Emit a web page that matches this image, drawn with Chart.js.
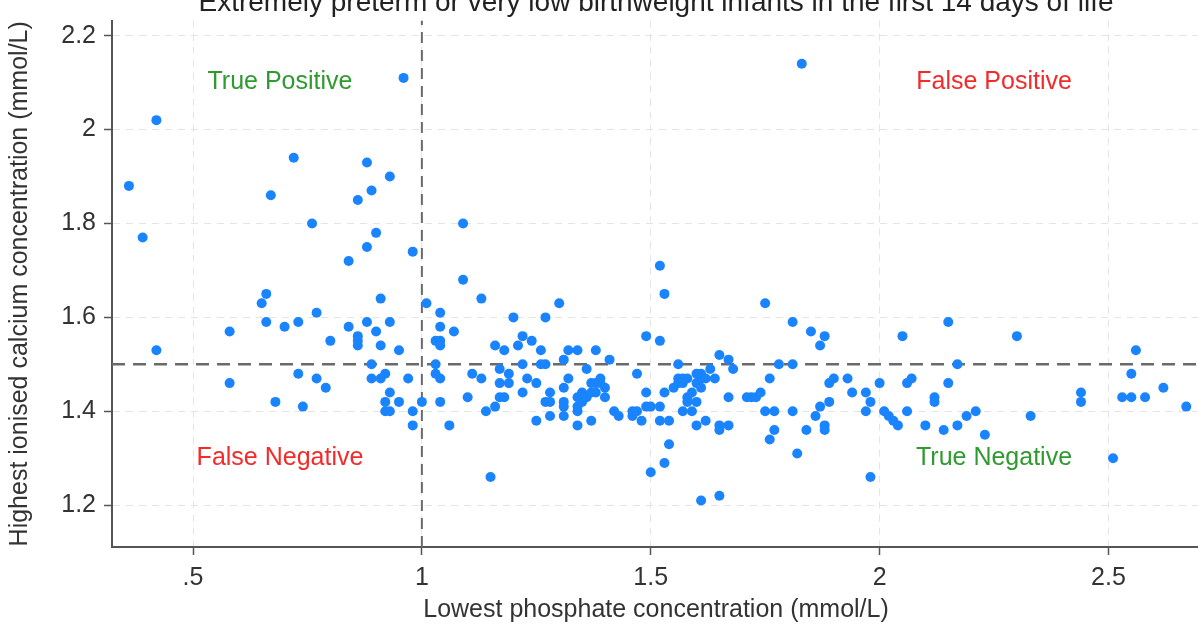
<!DOCTYPE html>
<html lang="en">
<head>
<meta charset="UTF-8">
<title>Ionised calcium vs phosphate</title>
<script src="https://cdn.jsdelivr.net/npm/chart.js"></script>
<style>
  html, body { margin:0; padding:0; background:#fff; overflow:hidden; }
  /* the reference is cropped at the top and right, so the canvas overhangs the window */
  #wrap { position:absolute; left:0; top:-14px; width:1205px; height:642px; }
</style>
</head>
<body>
<div id="wrap"><canvas id="chart"></canvas></div>
<script>
// lowest phosphate (x) and highest ionised calcium (y), mmol/L
const phosphate = [
  0.36,0.42,0.39,0.42,0.58,0.58,0.66,0.65,0.67,0.72,0.66,0.70,0.73,0.73,0.68,0.74,0.76,0.77,0.77,0.79,
  0.80,0.84,0.84,0.86,0.86,0.86,0.86,0.88,0.88,0.89,0.90,0.88,0.90,0.91,0.91,0.89,0.89,0.91,0.92,0.93,
  0.93,0.93,0.92,0.92,0.93,0.95,0.95,0.96,0.97,0.98,0.98,0.98,1.00,
  1.01,1.04,1.04,1.07,1.03,1.04,1.04,1.03,1.03,1.04,1.04,1.06,1.09,1.09,1.13,1.11,1.13,1.10,1.14,1.16,
  1.15,1.16,1.18,1.17,1.19,1.17,1.19,1.17,1.18,1.20,1.21,1.22,1.24,1.22,1.23,1.22,1.25,1.26,1.26,1.27,
  1.27,1.25,1.27,1.28,1.28,1.28,1.30,1.32,1.31,1.32,1.31,1.31,1.31,1.31,1.34,1.34,1.34,1.35,1.35,1.36,
  1.36,1.34,1.37,1.37,1.38,1.38,1.39,1.39,1.40,1.40,1.41,1.42,1.43,1.46,1.46,1.47,1.47,1.48,1.49,1.49,
  1.49,1.50,1.50,1.52,1.52,1.53,1.52,1.52,1.54,1.53,1.55,1.54,1.53,1.56,1.34,1.38,1.37,
  1.56,1.57,1.56,1.58,1.57,1.60,1.61,1.61,1.60,1.62,1.61,1.58,1.58,1.59,1.60,1.57,1.59,1.60,1.62,1.64,
  1.63,1.65,1.67,1.68,1.65,1.65,1.67,1.67,1.61,1.65,
  1.71,1.72,1.73,1.74,1.75,1.75,1.77,1.77,1.76,1.76,1.78,1.81,1.81,1.81,1.82,1.83,1.84,1.85,1.86,1.87,
  1.87,1.88,1.88,1.88,1.89,1.89,1.90,1.93,1.94,1.97,1.98,1.97,1.98,2.00,2.01,2.02,2.03,2.04,2.05,2.06,
  2.06,2.07,2.10,2.12,2.12,2.14,2.15,2.15,2.17,2.17,2.19,2.21,2.23,2.30,2.33,2.44,2.44,2.51,2.53,2.55,
  2.58,2.55,2.56,2.62,2.67
];
const calcium = [
  1.88,2.02,1.77,1.53,1.57,1.46,1.65,1.63,1.86,1.94,1.59,1.58,1.59,1.48,1.42,1.41,1.80,1.61,1.47,1.45,
  1.55,1.72,1.58,1.85,1.56,1.55,1.54,1.93,1.75,1.87,1.78,1.59,1.57,1.64,1.54,1.50,1.47,1.47,1.48,1.90,
  1.59,1.44,1.42,1.40,1.40,1.53,1.42,2.11,1.47,1.74,1.40,1.37,1.42,
  1.63,1.61,1.58,1.57,1.55,1.55,1.54,1.50,1.48,1.47,1.42,1.37,1.80,1.68,1.64,1.48,1.47,1.43,1.40,1.41,
  1.26,1.54,1.53,1.49,1.48,1.46,1.46,1.43,1.43,1.60,1.54,1.56,1.55,1.50,1.47,1.44,1.46,1.53,1.50,1.50,
  1.60,1.38,1.42,1.42,1.44,1.39,1.63,1.53,1.51,1.47,1.45,1.42,1.41,1.39,1.53,1.43,1.41,1.44,1.42,1.43,
  1.49,1.37,1.38,1.44,1.53,1.46,1.47,1.46,1.45,1.43,1.51,1.40,1.39,1.40,1.39,1.48,1.40,1.38,1.41,1.44,
  1.56,1.41,1.27,1.55,1.71,1.65,1.41,1.38,1.38,1.44,1.45,1.33,1.29,1.50,1.40,1.44,1.46,
  1.47,1.47,1.46,1.47,1.46,1.48,1.48,1.47,1.46,1.47,1.45,1.43,1.42,1.44,1.42,1.40,1.40,1.37,1.38,1.47,
  1.49,1.52,1.51,1.49,1.37,1.36,1.37,1.43,1.21,1.22,
  1.43,1.43,1.43,1.44,1.63,1.40,1.40,1.36,1.34,1.47,1.50,1.59,1.50,1.40,1.31,2.14,1.36,1.57,1.39,1.54,
  1.41,1.56,1.37,1.36,1.42,1.46,1.47,1.47,1.44,1.44,1.42,1.40,1.26,1.46,1.40,1.39,1.38,1.37,1.56,1.40,
  1.46,1.47,1.37,1.43,1.42,1.36,1.59,1.46,1.50,1.37,1.39,1.40,1.35,1.56,1.39,1.44,1.42,1.30,1.43,1.43,
  1.43,1.48,1.53,1.45,1.41
];

const xTicks = [0.5, 1, 1.5, 2, 2.5];
const xTickLabels = ['.5', '1', '1.5', '2', '2.5'];
const yTicks = [1.2, 1.4, 1.6, 1.8, 2, 2.2];
const yTickLabels = ['1.2', '1.4', '1.6', '1.8', '2', '2.2'];
const xRange = [0.323, 2.70];
const yRange = [1.111, 2.232];

// cut-offs drawn as dashed lines
const phosphateCut = 1;
const calciumCut = 1.5;

// quadrant annotations, in data units
const quadText = ['True Positive', 'False Positive', 'False Negative', 'True Negative'];
const quadX = [0.69, 2.25, 0.69, 2.25];
const quadY = [2.10, 2.10, 1.30, 1.30];
const quadColor = ['#2f9a2f', '#f42a2a', '#f42a2a', '#2f9a2f'];

const FONT = '"Liberation Sans", Arial, sans-serif';
Chart.defaults.font.family = FONT;
Chart.defaults.color = '#333';

const points = phosphate.map((x, i) => ({ x: x, y: calcium[i] }));

const quadrantLabels = {
  id: 'quadrantLabels',
  afterDatasetsDraw(chart) {
    const { ctx, scales: { x, y } } = chart;
    ctx.save();
    ctx.font = '25px ' + FONT;
    ctx.textAlign = 'center';
    ctx.textBaseline = 'middle';
    quadText.forEach((t, i) => {
      ctx.fillStyle = quadColor[i];
      ctx.fillText(t, x.getPixelForValue(quadX[i]), y.getPixelForValue(quadY[i]));
    });
    ctx.restore();
  }
};

const gridStyle = {
  color: '#e4e4e4',
  lineWidth: 1,
  tickLength: 8,
  tickColor: '#555',
  tickWidth: 1.5,
  tickBorderDash: []
};
const borderStyle = { color: '#555', width: 2, dash: [7, 6] };

new Chart(document.getElementById('chart'), {
  type: 'scatter',
  data: {
    datasets: [
      {
        data: points,
        backgroundColor: '#1a84ff',
        borderWidth: 0,
        pointRadius: 5,
        pointHoverRadius: 5,
        order: 0
      },
      {
        type: 'line',
        data: [{ x: phosphateCut, y: yRange[0] }, { x: phosphateCut, y: yRange[1] }],
        borderColor: '#6a6a6a',
        borderWidth: 2,
        borderDash: [11, 7],
        pointRadius: 0,
        order: 1
      },
      {
        type: 'line',
        data: [{ x: xRange[0], y: calciumCut }, { x: xRange[1], y: calciumCut }],
        borderColor: '#6a6a6a',
        borderWidth: 2.5,
        borderDash: [13, 8],
        pointRadius: 0,
        order: 1
      }
    ]
  },
  options: {
    responsive: true,
    maintainAspectRatio: false,
    animation: false,
    layout: { padding: 0 },
    plugins: {
      legend: { display: false },
      tooltip: { enabled: false },
      title: {
        display: true,
        fullSize: false,
        text: 'Extremely preterm or very low birthweight infants in the first 14 days of life',
        color: '#222',
        font: { size: 28, weight: 'normal' },
        padding: { top: 0, bottom: 1 }
      }
    },
    scales: {
      x: {
        type: 'linear',
        min: xRange[0],
        max: xRange[1],
        afterBuildTicks: s => { s.ticks = xTicks.map(v => ({ value: v })); },
        afterFit: s => { s.height = 81; },
        ticks: {
          font: { size: 25 },
          color: '#333',
          padding: 8,
          maxRotation: 0,
          callback: v => xTickLabels[xTicks.indexOf(v)]
        },
        grid: gridStyle,
        border: borderStyle,
        title: {
          display: true,
          text: 'Lowest phosphate concentration (mmol/L)',
          color: '#333',
          font: { size: 25 },
          padding: { top: 0, bottom: 3 }
        }
      },
      y: {
        type: 'linear',
        min: yRange[0],
        max: yRange[1],
        afterBuildTicks: s => { s.ticks = yTicks.map(v => ({ value: v })); },
        afterFit: s => { s.width = 112; },
        ticks: {
          font: { size: 25 },
          color: '#333',
          padding: 8,
          callback: v => yTickLabels[yTicks.indexOf(v)]
        },
        grid: gridStyle,
        border: borderStyle,
        title: {
          display: true,
          text: 'Highest ionised calcium concentration (mmol/L)',
          color: '#333',
          font: { size: 25 },
          padding: { top: 5, bottom: 0 }
        }
      }
    }
  },
  plugins: [quadrantLabels]
});
</script>
</body>
</html>
